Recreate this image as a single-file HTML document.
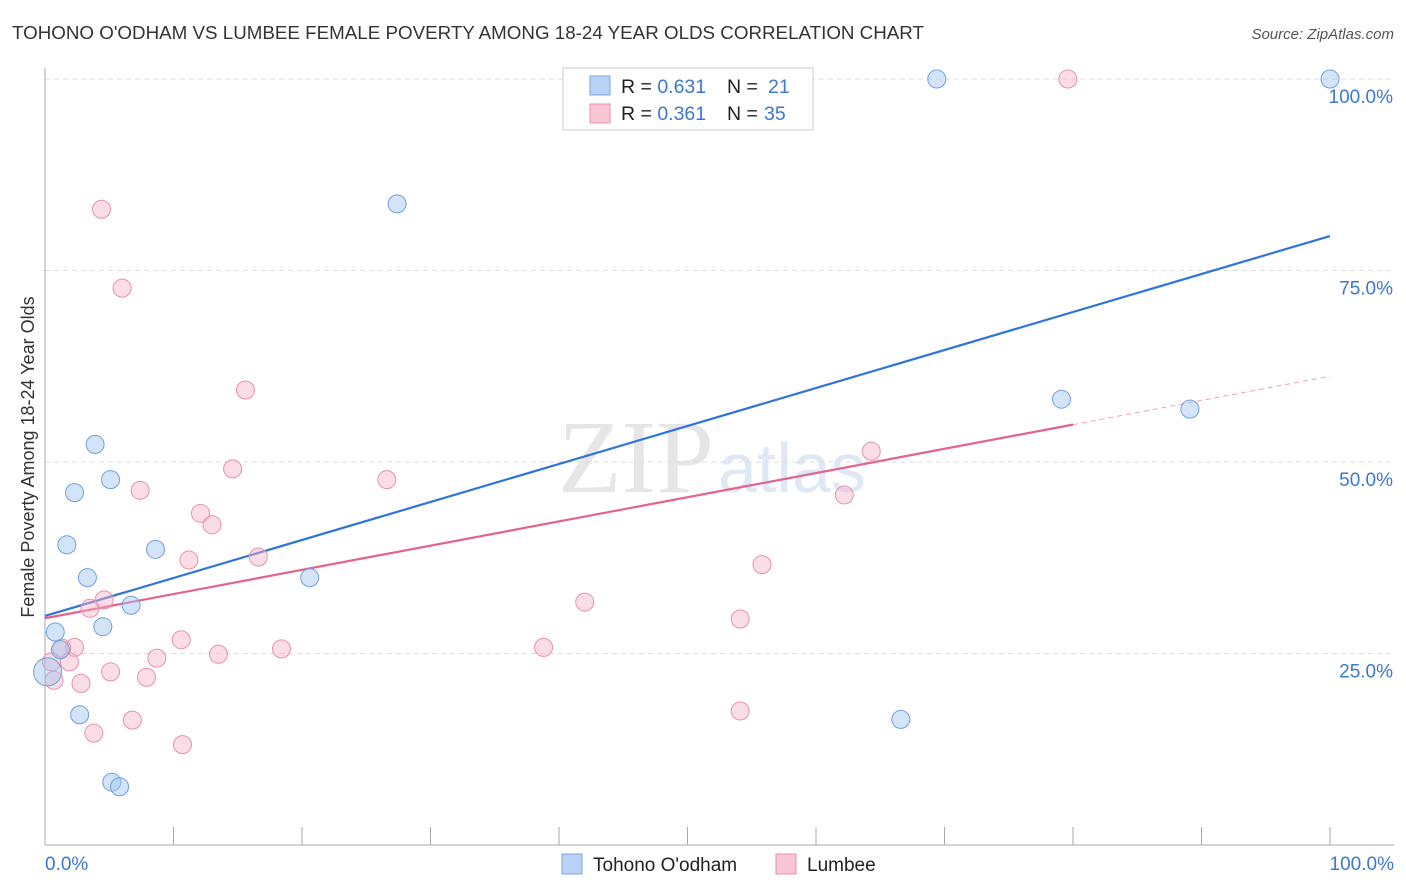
<!DOCTYPE html>
<html><head><meta charset="utf-8"><style>
body{margin:0;background:#fff;font-family:"Liberation Sans",sans-serif;}
svg{display:block}
</style></head><body>
<svg width="1406" height="892" xmlns="http://www.w3.org/2000/svg">
<text x="12" y="39" font-size="18" fill="#333" textLength="912" lengthAdjust="spacingAndGlyphs">TOHONO O'ODHAM VS LUMBEE FEMALE POVERTY AMONG 18-24 YEAR OLDS CORRELATION CHART</text>
<text x="1394" y="39" font-size="15" fill="#555" font-style="italic" text-anchor="end">Source: ZipAtlas.com</text>
<text x="714" y="492" font-size="104" fill="#e6e6e6" text-anchor="end" font-family="Liberation Serif,serif">ZIP</text>
<text x="718" y="492" font-size="70" fill="#dfe8f5">atlas</text>
<g id="grid"></g>
<line x1="45" y1="68" x2="45" y2="845" stroke="#aaa"/>
<line x1="45" y1="845" x2="1394" y2="845" stroke="#aaa"/>
<g id="xticks"></g>
<text x="45" y="870" font-size="19" fill="#3b78d0">0.0%</text>
<text x="1394" y="870" font-size="19" fill="#3b78d0" text-anchor="end">100.0%</text>
<text transform="translate(34,457) rotate(-90)" font-size="18" fill="#333" text-anchor="middle">Female Poverty Among 18-24 Year Olds</text>
<g id="lines"></g>
<g id="points"></g>
<g>
<rect x="563" y="68" width="250" height="62" fill="#fff" stroke="#ccc"/>
<rect x="590" y="76" width="20" height="19" fill="#b8d3f3" stroke="#7aa6e0"/>
<rect x="590" y="104" width="20" height="19" fill="#f8c6d4" stroke="#e890aa"/>
<text x="621" y="93" font-size="19.5" fill="#222">R = <tspan fill="#3b78d0">0.631</tspan><tspan x="727">N = </tspan><tspan x="768" fill="#3b78d0">21</tspan></text>
<text x="621" y="120" font-size="19.5" fill="#222">R = <tspan fill="#3b78d0">0.361</tspan><tspan x="727">N = </tspan><tspan x="764" fill="#3b78d0">35</tspan></text>
</g>
<g>
<rect x="562" y="854" width="20" height="20" fill="#b8d3f3" stroke="#7aa6e0"/>
<text x="593" y="871" font-size="19" fill="#222">Tohono O'odham</text>
<rect x="776" y="854" width="20" height="20" fill="#f8c6d4" stroke="#e890aa"/>
<text x="807" y="871" font-size="19" fill="#222">Lumbee</text>
</g>
</svg>
<script>
const blueX=[69.4,100,27.4,79.1,89.1,3.9,5.1,2.3,1.7,8.6,3.3,20.6,6.7,4.5,0.8,1.2,0.2,2.7,66.6,5.2,5.8];
const blueY=[100,100,83.7,58.2,56.9,52.3,47.7,46.0,39.2,38.6,34.9,34.9,31.3,28.5,27.8,25.5,22.6,17.0,16.4,8.2,7.6];
const pinkX=[79.6,4.4,6.0,15.6,14.6,26.6,7.4,64.3,62.2,12.1,13.0,11.2,16.6,55.8,4.6,3.5,42.0,54.1,10.6,2.3,1.3,38.8,18.4,13.5,8.7,1.9,0.5,5.1,7.9,0.7,2.8,6.8,3.8,10.7,54.1];
const pinkY=[100,83.0,72.7,59.4,49.1,47.7,46.3,51.4,45.7,43.3,41.8,37.2,37.6,36.6,32.0,30.9,31.7,29.5,26.8,25.8,25.7,25.8,25.6,24.9,24.4,23.9,23.9,22.6,21.9,21.5,21.1,16.3,14.6,13.1,17.5];
const blueTrend=[29.9,79.5];
const pinkTrend=[29.6,61.2];
const yTicks=[25,50,75,100];
const yTickLabels=["25.0%","50.0%","75.0%","100.0%"];
const xTicks=[10,20,30,40,50,60,70,80,90,100];
const NS="http://www.w3.org/2000/svg";
const sx=v=>45+v*12.85, sy=v=>845-v*7.66;
function mk(t,a,p){const e=document.createElementNS(NS,t);for(const k in a)e.setAttribute(k,a[k]);p.appendChild(e);return e;}
const grid=document.getElementById('grid');
yTicks.forEach((t,i)=>{
 const l=mk('line',{x1:45,x2:1394,y1:sy(t),y2:sy(t),stroke:'#ddd','stroke-dasharray':'5,4'},grid);
 
 
 const tx=mk('text',{x:1393,y:sy(t)+24,'font-size':19,fill:'#3b78d0','text-anchor':'end'},grid);
 tx.textContent=yTickLabels[i];
 
 
});
const xt=document.getElementById('xticks');
xTicks.forEach(t=>{
 const l=mk('line',{x1:sx(t),x2:sx(t),y1:827,y2:845,stroke:'#aaa'},xt);
 
 
});
const lines=document.getElementById('lines');
let b=mk('line',{x1:sx(0),y1:sy(blueTrend[0]),x2:sx(100),y2:sy(blueTrend[1]),stroke:'#2f74d8','stroke-width':2.2},lines);


const pAt=v=>pinkTrend[0]+(pinkTrend[1]-pinkTrend[0])*v/100;
let p=mk('line',{x1:sx(0),y1:sy(pAt(0)),x2:sx(80),y2:sy(pAt(80)),stroke:'#e4628e','stroke-width':2.2},lines);


let pd=mk('line',{x1:sx(80),y1:sy(pAt(80)),x2:sx(100),y2:sy(pAt(100)),stroke:'#e4628e','stroke-width':1,'stroke-dasharray':'5,4',opacity:0.6},lines);


const pts=document.getElementById('points');
pinkX.forEach((x,i)=>{
 const c=mk('circle',{cx:sx(x),cy:sy(pinkY[i]),r:9,fill:'rgba(246,180,200,0.45)',stroke:'#e890aa','stroke-width':1},pts);
 
 
});
blueX.forEach((x,i)=>{
 const c=mk('circle',{cx:sx(x),cy:sy(blueY[i]),r:(i==16?14:9),fill:'rgba(160,196,240,0.45)',stroke:'#6f9fe0','stroke-width':1},pts);
 
 
});
</script>
</body></html>
